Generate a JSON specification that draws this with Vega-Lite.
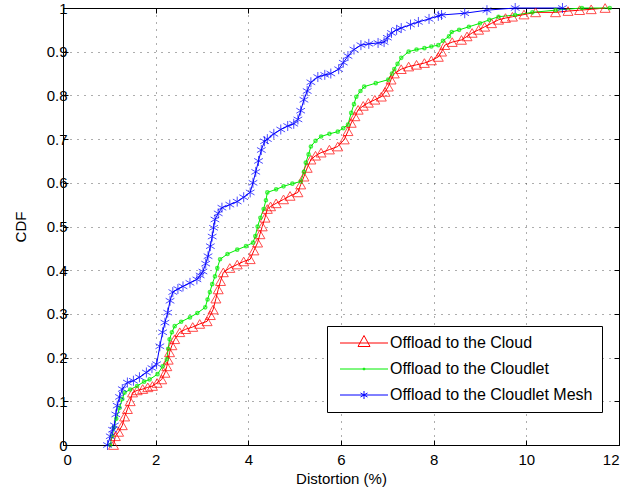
{
  "$schema": "https://vega.github.io/schema/vega-lite/v6.json",
  "width": 556,
  "height": 437,
  "autosize": {"type": "none"},
  "padding": {"left": 63, "top": 8, "right": 7, "bottom": 48},
  "background": "white",
  "config": {
    "font": "Liberation Sans",
    "view": {"stroke": "black", "strokeWidth": 1},
    "axis": {
      "labelFont": "Liberation Sans", "labelFontSize": 15, "labelColor": "black",
      "titleFont": "Liberation Sans", "titleFontSize": 15, "titleFontWeight": "normal", "titleColor": "black",
      "domainColor": "black", "tickColor": "black", "tickSize": -5,
      "gridColor": "#333333", "gridDash": [1, 6], "gridOpacity": 0.8
    },
    "legend": {
      "labelFont": "Liberation Sans", "labelFontSize": 16, "labelColor": "black", "labelLimit": 400
    }
  },
  "data": {
    "values": [
      {"series": "Offload to the Cloud", "x": 1.09, "y": 0},
      {"series": "Offload to the Cloud", "x": 1.13, "y": 0.02},
      {"series": "Offload to the Cloud", "x": 1.2, "y": 0.03},
      {"series": "Offload to the Cloud", "x": 1.28, "y": 0.045},
      {"series": "Offload to the Cloud", "x": 1.33, "y": 0.065},
      {"series": "Offload to the Cloud", "x": 1.39, "y": 0.082},
      {"series": "Offload to the Cloud", "x": 1.45, "y": 0.1},
      {"series": "Offload to the Cloud", "x": 1.5, "y": 0.12},
      {"series": "Offload to the Cloud", "x": 1.6, "y": 0.125},
      {"series": "Offload to the Cloud", "x": 1.72, "y": 0.128},
      {"series": "Offload to the Cloud", "x": 1.83, "y": 0.132},
      {"series": "Offload to the Cloud", "x": 1.93, "y": 0.135},
      {"series": "Offload to the Cloud", "x": 2.03, "y": 0.142},
      {"series": "Offload to the Cloud", "x": 2.13, "y": 0.15},
      {"series": "Offload to the Cloud", "x": 2.2, "y": 0.165},
      {"series": "Offload to the Cloud", "x": 2.24, "y": 0.18},
      {"series": "Offload to the Cloud", "x": 2.27, "y": 0.195},
      {"series": "Offload to the Cloud", "x": 2.3, "y": 0.212},
      {"series": "Offload to the Cloud", "x": 2.35, "y": 0.228},
      {"series": "Offload to the Cloud", "x": 2.41, "y": 0.242},
      {"series": "Offload to the Cloud", "x": 2.52, "y": 0.258},
      {"series": "Offload to the Cloud", "x": 2.65, "y": 0.265},
      {"series": "Offload to the Cloud", "x": 2.8, "y": 0.27},
      {"series": "Offload to the Cloud", "x": 2.95, "y": 0.277},
      {"series": "Offload to the Cloud", "x": 3.11, "y": 0.283},
      {"series": "Offload to the Cloud", "x": 3.18, "y": 0.297},
      {"series": "Offload to the Cloud", "x": 3.24, "y": 0.31},
      {"series": "Offload to the Cloud", "x": 3.3, "y": 0.335},
      {"series": "Offload to the Cloud", "x": 3.35, "y": 0.356},
      {"series": "Offload to the Cloud", "x": 3.4, "y": 0.375},
      {"series": "Offload to the Cloud", "x": 3.46, "y": 0.395},
      {"series": "Offload to the Cloud", "x": 3.6, "y": 0.405},
      {"series": "Offload to the Cloud", "x": 3.76, "y": 0.413},
      {"series": "Offload to the Cloud", "x": 3.9, "y": 0.42},
      {"series": "Offload to the Cloud", "x": 4.04, "y": 0.425},
      {"series": "Offload to the Cloud", "x": 4.12, "y": 0.445},
      {"series": "Offload to the Cloud", "x": 4.2, "y": 0.463},
      {"series": "Offload to the Cloud", "x": 4.25, "y": 0.482},
      {"series": "Offload to the Cloud", "x": 4.3, "y": 0.5},
      {"series": "Offload to the Cloud", "x": 4.36, "y": 0.52},
      {"series": "Offload to the Cloud", "x": 4.41, "y": 0.54},
      {"series": "Offload to the Cloud", "x": 4.48, "y": 0.546},
      {"series": "Offload to the Cloud", "x": 4.6, "y": 0.553},
      {"series": "Offload to the Cloud", "x": 4.76, "y": 0.562},
      {"series": "Offload to the Cloud", "x": 4.9, "y": 0.57},
      {"series": "Offload to the Cloud", "x": 5.07, "y": 0.578},
      {"series": "Offload to the Cloud", "x": 5.13, "y": 0.596},
      {"series": "Offload to the Cloud", "x": 5.2, "y": 0.614},
      {"series": "Offload to the Cloud", "x": 5.27, "y": 0.634},
      {"series": "Offload to the Cloud", "x": 5.35, "y": 0.653},
      {"series": "Offload to the Cloud", "x": 5.45, "y": 0.662},
      {"series": "Offload to the Cloud", "x": 5.57, "y": 0.669},
      {"series": "Offload to the Cloud", "x": 5.75, "y": 0.676},
      {"series": "Offload to the Cloud", "x": 5.93, "y": 0.683},
      {"series": "Offload to the Cloud", "x": 6.07, "y": 0.699},
      {"series": "Offload to the Cloud", "x": 6.15, "y": 0.718},
      {"series": "Offload to the Cloud", "x": 6.22, "y": 0.737},
      {"series": "Offload to the Cloud", "x": 6.3, "y": 0.752},
      {"series": "Offload to the Cloud", "x": 6.37, "y": 0.767},
      {"series": "Offload to the Cloud", "x": 6.48, "y": 0.776},
      {"series": "Offload to the Cloud", "x": 6.59, "y": 0.783},
      {"series": "Offload to the Cloud", "x": 6.73, "y": 0.79},
      {"series": "Offload to the Cloud", "x": 6.87, "y": 0.797},
      {"series": "Offload to the Cloud", "x": 6.95, "y": 0.808},
      {"series": "Offload to the Cloud", "x": 7.02, "y": 0.82},
      {"series": "Offload to the Cloud", "x": 7.08, "y": 0.836},
      {"series": "Offload to the Cloud", "x": 7.15, "y": 0.85},
      {"series": "Offload to the Cloud", "x": 7.3, "y": 0.86},
      {"series": "Offload to the Cloud", "x": 7.46, "y": 0.866},
      {"series": "Offload to the Cloud", "x": 7.63, "y": 0.87},
      {"series": "Offload to the Cloud", "x": 7.8, "y": 0.874},
      {"series": "Offload to the Cloud", "x": 7.95, "y": 0.88},
      {"series": "Offload to the Cloud", "x": 8.1, "y": 0.888},
      {"series": "Offload to the Cloud", "x": 8.17, "y": 0.9},
      {"series": "Offload to the Cloud", "x": 8.24, "y": 0.915},
      {"series": "Offload to the Cloud", "x": 8.4, "y": 0.922},
      {"series": "Offload to the Cloud", "x": 8.6, "y": 0.927},
      {"series": "Offload to the Cloud", "x": 8.72, "y": 0.935},
      {"series": "Offload to the Cloud", "x": 8.83, "y": 0.943},
      {"series": "Offload to the Cloud", "x": 8.97, "y": 0.95},
      {"series": "Offload to the Cloud", "x": 9.1, "y": 0.957},
      {"series": "Offload to the Cloud", "x": 9.25, "y": 0.965},
      {"series": "Offload to the Cloud", "x": 9.4, "y": 0.973},
      {"series": "Offload to the Cloud", "x": 9.55, "y": 0.977},
      {"series": "Offload to the Cloud", "x": 9.7, "y": 0.98},
      {"series": "Offload to the Cloud", "x": 9.95, "y": 0.985},
      {"series": "Offload to the Cloud", "x": 10.2, "y": 0.99},
      {"series": "Offload to the Cloud", "x": 10.63, "y": 0.99},
      {"series": "Offload to the Cloud", "x": 10.9, "y": 0.993},
      {"series": "Offload to the Cloud", "x": 11.15, "y": 0.995},
      {"series": "Offload to the Cloud", "x": 11.4, "y": 0.997},
      {"series": "Offload to the Cloud", "x": 11.7, "y": 1.0},

      {"series": "Offload to the Cloudlet", "x": 1.02, "y": 0},
      {"series": "Offload to the Cloudlet", "x": 1.06, "y": 0.02},
      {"series": "Offload to the Cloudlet", "x": 1.1, "y": 0.04},
      {"series": "Offload to the Cloudlet", "x": 1.15, "y": 0.06},
      {"series": "Offload to the Cloudlet", "x": 1.22, "y": 0.085},
      {"series": "Offload to the Cloudlet", "x": 1.28, "y": 0.105},
      {"series": "Offload to the Cloudlet", "x": 1.33, "y": 0.12},
      {"series": "Offload to the Cloudlet", "x": 1.45, "y": 0.127},
      {"series": "Offload to the Cloudlet", "x": 1.6, "y": 0.135},
      {"series": "Offload to the Cloudlet", "x": 1.75, "y": 0.145},
      {"series": "Offload to the Cloudlet", "x": 1.87, "y": 0.15},
      {"series": "Offload to the Cloudlet", "x": 2.04, "y": 0.162},
      {"series": "Offload to the Cloudlet", "x": 2.15, "y": 0.18},
      {"series": "Offload to the Cloudlet", "x": 2.24, "y": 0.196},
      {"series": "Offload to the Cloudlet", "x": 2.27, "y": 0.22},
      {"series": "Offload to the Cloudlet", "x": 2.3, "y": 0.242},
      {"series": "Offload to the Cloudlet", "x": 2.35, "y": 0.258},
      {"series": "Offload to the Cloudlet", "x": 2.41, "y": 0.272},
      {"series": "Offload to the Cloudlet", "x": 2.55, "y": 0.282},
      {"series": "Offload to the Cloudlet", "x": 2.74, "y": 0.292},
      {"series": "Offload to the Cloudlet", "x": 2.9, "y": 0.302},
      {"series": "Offload to the Cloudlet", "x": 3.07, "y": 0.315},
      {"series": "Offload to the Cloudlet", "x": 3.12, "y": 0.333},
      {"series": "Offload to the Cloudlet", "x": 3.17, "y": 0.35},
      {"series": "Offload to the Cloudlet", "x": 3.22, "y": 0.368},
      {"series": "Offload to the Cloudlet", "x": 3.28, "y": 0.386},
      {"series": "Offload to the Cloudlet", "x": 3.33, "y": 0.405},
      {"series": "Offload to the Cloudlet", "x": 3.39, "y": 0.425},
      {"series": "Offload to the Cloudlet", "x": 3.55, "y": 0.437},
      {"series": "Offload to the Cloudlet", "x": 3.76, "y": 0.447},
      {"series": "Offload to the Cloudlet", "x": 3.95, "y": 0.455},
      {"series": "Offload to the Cloudlet", "x": 4.1, "y": 0.463},
      {"series": "Offload to the Cloudlet", "x": 4.15, "y": 0.478},
      {"series": "Offload to the Cloudlet", "x": 4.2, "y": 0.5},
      {"series": "Offload to the Cloudlet", "x": 4.26, "y": 0.52},
      {"series": "Offload to the Cloudlet", "x": 4.33, "y": 0.54},
      {"series": "Offload to the Cloudlet", "x": 4.38, "y": 0.56},
      {"series": "Offload to the Cloudlet", "x": 4.41, "y": 0.578},
      {"series": "Offload to the Cloudlet", "x": 4.6, "y": 0.585},
      {"series": "Offload to the Cloudlet", "x": 4.76, "y": 0.592},
      {"series": "Offload to the Cloudlet", "x": 4.95, "y": 0.598},
      {"series": "Offload to the Cloudlet", "x": 5.13, "y": 0.603},
      {"series": "Offload to the Cloudlet", "x": 5.2, "y": 0.625},
      {"series": "Offload to the Cloudlet", "x": 5.24, "y": 0.646},
      {"series": "Offload to the Cloudlet", "x": 5.3, "y": 0.665},
      {"series": "Offload to the Cloudlet", "x": 5.35, "y": 0.683},
      {"series": "Offload to the Cloudlet", "x": 5.45, "y": 0.696},
      {"series": "Offload to the Cloudlet", "x": 5.57, "y": 0.706},
      {"series": "Offload to the Cloudlet", "x": 5.75, "y": 0.712},
      {"series": "Offload to the Cloudlet", "x": 5.93, "y": 0.717},
      {"series": "Offload to the Cloudlet", "x": 6.05, "y": 0.725},
      {"series": "Offload to the Cloudlet", "x": 6.15, "y": 0.733},
      {"series": "Offload to the Cloudlet", "x": 6.22, "y": 0.76},
      {"series": "Offload to the Cloudlet", "x": 6.28, "y": 0.78},
      {"series": "Offload to the Cloudlet", "x": 6.33, "y": 0.797},
      {"series": "Offload to the Cloudlet", "x": 6.42, "y": 0.81},
      {"series": "Offload to the Cloudlet", "x": 6.5, "y": 0.82},
      {"series": "Offload to the Cloudlet", "x": 6.75, "y": 0.828},
      {"series": "Offload to the Cloudlet", "x": 7.02, "y": 0.836},
      {"series": "Offload to the Cloudlet", "x": 7.1, "y": 0.85},
      {"series": "Offload to the Cloudlet", "x": 7.15, "y": 0.86},
      {"series": "Offload to the Cloudlet", "x": 7.22, "y": 0.872},
      {"series": "Offload to the Cloudlet", "x": 7.3, "y": 0.886},
      {"series": "Offload to the Cloudlet", "x": 7.46, "y": 0.9},
      {"series": "Offload to the Cloudlet", "x": 7.63, "y": 0.905},
      {"series": "Offload to the Cloudlet", "x": 7.8, "y": 0.908},
      {"series": "Offload to the Cloudlet", "x": 7.95, "y": 0.912},
      {"series": "Offload to the Cloudlet", "x": 8.1, "y": 0.915},
      {"series": "Offload to the Cloudlet", "x": 8.2, "y": 0.925},
      {"series": "Offload to the Cloudlet", "x": 8.33, "y": 0.935},
      {"series": "Offload to the Cloudlet", "x": 8.39, "y": 0.945},
      {"series": "Offload to the Cloudlet", "x": 8.55, "y": 0.95},
      {"series": "Offload to the Cloudlet", "x": 8.76, "y": 0.957},
      {"series": "Offload to the Cloudlet", "x": 9.0, "y": 0.965},
      {"series": "Offload to the Cloudlet", "x": 9.2, "y": 0.973},
      {"series": "Offload to the Cloudlet", "x": 9.4, "y": 0.98},
      {"series": "Offload to the Cloudlet", "x": 9.76, "y": 0.984},
      {"series": "Offload to the Cloudlet", "x": 10.13, "y": 0.99},
      {"series": "Offload to the Cloudlet", "x": 10.63, "y": 0.995},
      {"series": "Offload to the Cloudlet", "x": 11.2, "y": 1.0},
      {"series": "Offload to the Cloudlet", "x": 11.8, "y": 1.0},

      {"series": "Offload to the Cloudlet Mesh", "x": 0.96, "y": 0},
      {"series": "Offload to the Cloudlet Mesh", "x": 1.02, "y": 0.02},
      {"series": "Offload to the Cloudlet Mesh", "x": 1.07, "y": 0.035},
      {"series": "Offload to the Cloudlet Mesh", "x": 1.11, "y": 0.045},
      {"series": "Offload to the Cloudlet Mesh", "x": 1.14, "y": 0.07},
      {"series": "Offload to the Cloudlet Mesh", "x": 1.17, "y": 0.09},
      {"series": "Offload to the Cloudlet Mesh", "x": 1.22, "y": 0.11},
      {"series": "Offload to the Cloudlet Mesh", "x": 1.28, "y": 0.128},
      {"series": "Offload to the Cloudlet Mesh", "x": 1.39, "y": 0.143},
      {"series": "Offload to the Cloudlet Mesh", "x": 1.52, "y": 0.147},
      {"series": "Offload to the Cloudlet Mesh", "x": 1.65, "y": 0.155},
      {"series": "Offload to the Cloudlet Mesh", "x": 1.8, "y": 0.166},
      {"series": "Offload to the Cloudlet Mesh", "x": 1.92, "y": 0.176},
      {"series": "Offload to the Cloudlet Mesh", "x": 2.02, "y": 0.185},
      {"series": "Offload to the Cloudlet Mesh", "x": 2.09, "y": 0.226},
      {"series": "Offload to the Cloudlet Mesh", "x": 2.15, "y": 0.258},
      {"series": "Offload to the Cloudlet Mesh", "x": 2.2, "y": 0.28},
      {"series": "Offload to the Cloudlet Mesh", "x": 2.26, "y": 0.303},
      {"series": "Offload to the Cloudlet Mesh", "x": 2.31, "y": 0.33},
      {"series": "Offload to the Cloudlet Mesh", "x": 2.37, "y": 0.35},
      {"series": "Offload to the Cloudlet Mesh", "x": 2.48, "y": 0.357},
      {"series": "Offload to the Cloudlet Mesh", "x": 2.59, "y": 0.363},
      {"series": "Offload to the Cloudlet Mesh", "x": 2.74, "y": 0.371},
      {"series": "Offload to the Cloudlet Mesh", "x": 2.89, "y": 0.379},
      {"series": "Offload to the Cloudlet Mesh", "x": 2.96, "y": 0.388},
      {"series": "Offload to the Cloudlet Mesh", "x": 3.02, "y": 0.397},
      {"series": "Offload to the Cloudlet Mesh", "x": 3.08, "y": 0.415},
      {"series": "Offload to the Cloudlet Mesh", "x": 3.13, "y": 0.432},
      {"series": "Offload to the Cloudlet Mesh", "x": 3.18, "y": 0.455},
      {"series": "Offload to the Cloudlet Mesh", "x": 3.22, "y": 0.477},
      {"series": "Offload to the Cloudlet Mesh", "x": 3.25, "y": 0.497},
      {"series": "Offload to the Cloudlet Mesh", "x": 3.28, "y": 0.516},
      {"series": "Offload to the Cloudlet Mesh", "x": 3.35, "y": 0.53},
      {"series": "Offload to the Cloudlet Mesh", "x": 3.43, "y": 0.543},
      {"series": "Offload to the Cloudlet Mesh", "x": 3.6, "y": 0.55},
      {"series": "Offload to the Cloudlet Mesh", "x": 3.76, "y": 0.557},
      {"series": "Offload to the Cloudlet Mesh", "x": 3.9, "y": 0.567},
      {"series": "Offload to the Cloudlet Mesh", "x": 4.04, "y": 0.578},
      {"series": "Offload to the Cloudlet Mesh", "x": 4.1, "y": 0.6},
      {"series": "Offload to the Cloudlet Mesh", "x": 4.16, "y": 0.625},
      {"series": "Offload to the Cloudlet Mesh", "x": 4.22, "y": 0.65},
      {"series": "Offload to the Cloudlet Mesh", "x": 4.28, "y": 0.675},
      {"series": "Offload to the Cloudlet Mesh", "x": 4.35, "y": 0.695},
      {"series": "Offload to the Cloudlet Mesh", "x": 4.41, "y": 0.7},
      {"series": "Offload to the Cloudlet Mesh", "x": 4.55, "y": 0.712},
      {"series": "Offload to the Cloudlet Mesh", "x": 4.7, "y": 0.722},
      {"series": "Offload to the Cloudlet Mesh", "x": 4.85, "y": 0.73},
      {"series": "Offload to the Cloudlet Mesh", "x": 4.98, "y": 0.735},
      {"series": "Offload to the Cloudlet Mesh", "x": 5.07, "y": 0.745},
      {"series": "Offload to the Cloudlet Mesh", "x": 5.13, "y": 0.765},
      {"series": "Offload to the Cloudlet Mesh", "x": 5.2, "y": 0.79},
      {"series": "Offload to the Cloudlet Mesh", "x": 5.27, "y": 0.81},
      {"series": "Offload to the Cloudlet Mesh", "x": 5.35, "y": 0.83},
      {"series": "Offload to the Cloudlet Mesh", "x": 5.5, "y": 0.842},
      {"series": "Offload to the Cloudlet Mesh", "x": 5.65, "y": 0.847},
      {"series": "Offload to the Cloudlet Mesh", "x": 5.78, "y": 0.85},
      {"series": "Offload to the Cloudlet Mesh", "x": 5.95, "y": 0.86},
      {"series": "Offload to the Cloudlet Mesh", "x": 6.05, "y": 0.875},
      {"series": "Offload to the Cloudlet Mesh", "x": 6.15, "y": 0.89},
      {"series": "Offload to the Cloudlet Mesh", "x": 6.28, "y": 0.905},
      {"series": "Offload to the Cloudlet Mesh", "x": 6.43, "y": 0.915},
      {"series": "Offload to the Cloudlet Mesh", "x": 6.6, "y": 0.918},
      {"series": "Offload to the Cloudlet Mesh", "x": 6.8, "y": 0.92},
      {"series": "Offload to the Cloudlet Mesh", "x": 6.93, "y": 0.922},
      {"series": "Offload to the Cloudlet Mesh", "x": 7.0, "y": 0.932},
      {"series": "Offload to the Cloudlet Mesh", "x": 7.09, "y": 0.943},
      {"series": "Offload to the Cloudlet Mesh", "x": 7.2, "y": 0.95},
      {"series": "Offload to the Cloudlet Mesh", "x": 7.3, "y": 0.954},
      {"series": "Offload to the Cloudlet Mesh", "x": 7.5, "y": 0.962},
      {"series": "Offload to the Cloudlet Mesh", "x": 7.67, "y": 0.968},
      {"series": "Offload to the Cloudlet Mesh", "x": 7.9, "y": 0.975},
      {"series": "Offload to the Cloudlet Mesh", "x": 8.1, "y": 0.982},
      {"series": "Offload to the Cloudlet Mesh", "x": 8.17, "y": 0.984},
      {"series": "Offload to the Cloudlet Mesh", "x": 8.67, "y": 0.988},
      {"series": "Offload to the Cloudlet Mesh", "x": 9.15, "y": 0.995},
      {"series": "Offload to the Cloudlet Mesh", "x": 9.76, "y": 1.0},
      {"series": "Offload to the Cloudlet Mesh", "x": 10.78, "y": 1.0}
    ]
  },
  "resolve": {"axis": {"x": "independent", "y": "independent"}},
  "layer": [
    {
      "mark": {"type": "line", "strokeWidth": 1},
      "encoding": {
        "x": {"field": "x", "type": "quantitative", "scale": {"domain": [0, 12], "nice": false, "zero": false},
              "axis": {"title": "Distortion (%)", "values": [0, 2, 4, 6, 8, 10, 12], "grid": true, "labelPadding": 12, "titleY": 33, "titleBaseline": "middle"}},
        "y": {"field": "y", "type": "quantitative", "scale": {"domain": [0, 1], "nice": false},
              "axis": {"title": "CDF", "values": [0, 0.1, 0.2, 0.3, 0.4, 0.5, 0.6, 0.7, 0.8, 0.9, 1], "format": "~g", "grid": true, "labelPadding": 1, "titleX": -43, "titleBaseline": "middle"}},
        "color": {"field": "series", "type": "nominal",
                  "scale": {"domain": ["Offload to the Cloud", "Offload to the Cloudlet", "Offload to the Cloudlet Mesh"], "range": ["#ff0000", "#00ee00", "#0000ff"]},
                  "legend": {
                    "title": null, "orient": "none", "legendX": 264, "legendY": 318,
                    "strokeColor": "black", "fillColor": "white", "padding": 9,
                    "symbolSize": 100, "symbolOffset": 20, "labelOffset": 18, "rowPadding": 10,
                    "symbolStrokeWidth": 1, "symbolFillColor": "transparent",
                    "encode": {"symbols": {"update": {
                      "shape": {"signal": "datum.value === 'Offload to the Cloud' ? 'M-4.8,0L4.8,0M0,-1.5L1.2,0.7L-1.2,0.7Z' : datum.value === 'Offload to the Cloudlet' ? 'M-4.8,0L4.8,0M-0.15,-0.15L0.15,-0.15L0.15,0.15L-0.15,0.15Z' : 'M-4.8,0L4.8,0M0,-0.8L0,0.8M-0.7,-0.4L0.7,0.4M-0.7,0.4L0.7,-0.4'"},
                      "size": {"value": 100},
                      "fill": {"value": "transparent"},
                      "strokeWidth": {"value": 1}
                    }}}
                  }}
      }
    },
    {
      "transform": [{"filter": "datum.series === 'Offload to the Cloud'"}],
      "mark": {"type": "point", "filled": false, "strokeWidth": 1, "shape": "triangle-up", "size": 100},
      "encoding": {
        "x": {"field": "x", "type": "quantitative",
              "axis": {"orient": "top", "title": null, "labels": false, "grid": false, "values": [0, 2, 4, 6, 8, 10, 12]}},
        "y": {"field": "y", "type": "quantitative",
              "axis": {"orient": "right", "title": null, "labels": false, "grid": false, "values": [0, 0.1, 0.2, 0.3, 0.4, 0.5, 0.6, 0.7, 0.8, 0.9, 1]}},
        "color": {"field": "series", "type": "nominal"}
      }
    },
    {
      "transform": [{"filter": "datum.series === 'Offload to the Cloudlet'"}],
      "mark": {"type": "point", "filled": false, "strokeWidth": 1.5, "shape": "circle", "size": 10},
      "encoding": {
        "x": {"field": "x", "type": "quantitative", "axis": null},
        "y": {"field": "y", "type": "quantitative", "axis": null},
        "color": {"field": "series", "type": "nominal"}
      }
    },
    {
      "transform": [{"filter": "datum.series === 'Offload to the Cloudlet Mesh'"}],
      "mark": {"type": "point", "filled": false, "strokeWidth": 1, "shape": "M0,-1L0,1M-0.87,-0.5L0.87,0.5M-0.87,0.5L0.87,-0.5", "size": 100},
      "encoding": {
        "x": {"field": "x", "type": "quantitative", "axis": null},
        "y": {"field": "y", "type": "quantitative", "axis": null},
        "color": {"field": "series", "type": "nominal"}
      }
    }
  ]
}
